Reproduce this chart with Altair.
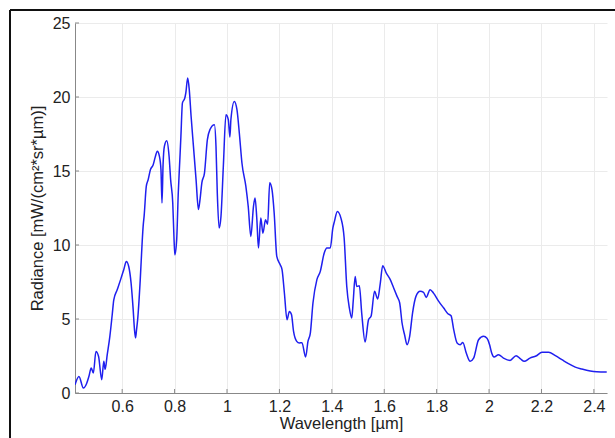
import altair as alt
import pandas as pd

wavelength = [
    0.420, 0.435, 0.452, 0.464, 0.473, 0.482, 0.490, 0.500, 0.510, 0.522,
    0.530, 0.535, 0.543, 0.553, 0.562, 0.568, 0.581, 0.594, 0.606, 0.616,
    0.625, 0.634, 0.642, 0.647, 0.651, 0.655, 0.659, 0.669, 0.676, 0.680,
    0.684, 0.692, 0.699, 0.708, 0.718, 0.727, 0.734, 0.742, 0.748, 0.752,
    0.756, 0.761, 0.770, 0.779, 0.785, 0.793, 0.798, 0.801, 0.808, 0.814,
    0.820, 0.824, 0.830, 0.839, 0.843, 0.850, 0.856, 0.863, 0.872, 0.882,
    0.891, 0.897, 0.904, 0.914, 0.925, 0.935, 0.952, 0.958, 0.963, 0.970,
    0.977, 0.986, 0.996, 1.005, 1.011, 1.015, 1.028, 1.038, 1.047, 1.057,
    1.072, 1.081, 1.091, 1.101, 1.107, 1.114, 1.120, 1.129, 1.137, 1.147,
    1.155, 1.163, 1.172, 1.180, 1.190, 1.203, 1.210, 1.219, 1.229, 1.238,
    1.246, 1.254, 1.266, 1.276, 1.286, 1.300, 1.309, 1.318, 1.328, 1.343,
    1.356, 1.371, 1.381, 1.394, 1.404, 1.410, 1.421, 1.435, 1.447, 1.457,
    1.467, 1.476, 1.482, 1.489, 1.495, 1.505, 1.514, 1.527, 1.540, 1.550,
    1.563, 1.575, 1.585, 1.594, 1.608, 1.623, 1.636, 1.649, 1.659, 1.668,
    1.678, 1.687, 1.697, 1.708, 1.721, 1.737, 1.750, 1.760, 1.775, 1.788,
    1.808, 1.827, 1.843, 1.855, 1.865, 1.878, 1.890, 1.900, 1.913, 1.928,
    1.941, 1.960, 1.979, 1.992, 2.002, 2.010, 2.019, 2.036, 2.055, 2.080,
    2.103, 2.120, 2.134, 2.156, 2.179, 2.202, 2.227, 2.253, 2.278, 2.303,
    2.329, 2.354, 2.386, 2.411, 2.449,
]

radiance = [
    0.55, 1.12, 0.34, 0.63, 1.12, 1.69, 1.35, 2.81, 2.47, 0.90,
    2.14, 1.60, 2.59, 3.83, 5.29, 6.30, 6.98, 7.66, 8.33, 8.89,
    8.55, 7.43, 5.63, 4.28, 3.72, 4.30, 4.95, 7.66, 10.10, 11.26,
    12.00, 13.96, 14.40, 15.10, 15.40, 16.00, 16.33, 16.00, 15.10, 12.84,
    15.40, 16.66, 17.05, 16.00, 14.40, 12.84, 10.36, 9.34, 10.36, 13.50,
    15.76, 17.30, 19.60, 19.93, 20.30, 21.28, 20.50, 18.70, 16.66, 14.40,
    12.40, 13.06, 14.20, 14.86, 17.10, 17.80, 18.13, 16.66, 13.50, 11.15,
    11.93, 15.30, 18.80, 18.47, 17.30, 18.50, 19.70, 19.14, 17.57, 15.54,
    13.96, 12.60, 10.58, 12.60, 13.18, 11.70, 9.80, 11.82, 10.80, 11.70,
    11.40, 14.20, 13.70, 12.16, 9.23, 8.67, 8.33, 6.76, 4.95, 5.51,
    5.30, 4.16, 3.49, 3.38, 3.40, 2.43, 3.49, 4.05, 6.08, 7.66,
    8.22, 9.46, 9.80, 9.80, 11.15, 11.60, 12.27, 11.80, 10.47, 7.20,
    5.74, 5.07, 6.30, 7.88, 7.20, 7.25, 5.40, 3.45, 4.95, 5.20,
    6.87, 6.35, 7.43, 8.60, 8.10, 7.66, 7.10, 6.53, 6.08, 4.73,
    3.90, 3.26, 3.83, 5.40, 6.53, 6.87, 6.80, 6.46, 6.98, 6.75,
    6.19, 5.74, 5.36, 5.22, 4.28, 3.38, 3.26, 3.42, 2.70, 2.14,
    2.35, 3.60, 3.83, 3.70, 3.26, 2.70, 2.43, 2.59, 2.36, 2.20,
    2.52, 2.30, 2.14, 2.36, 2.50, 2.75, 2.75, 2.52, 2.25, 1.98,
    1.75, 1.62, 1.49, 1.44, 1.42,
]

x_ticks = [0.6, 0.8, 1.0, 1.2, 1.4, 1.6, 1.8, 2.0, 2.2, 2.4]
y_ticks = [0, 5, 10, 15, 20, 25]

df = pd.DataFrame({"w": wavelength, "r": radiance})
df_xt = pd.DataFrame({"t": x_ticks})
df_yt = pd.DataFrame({"t": y_ticks})

FONT = "Liberation Sans"
W, H = 532, 370
X_DOMAIN = [0.42, 2.45]
Y_DOMAIN = [0, 25]

common_axis = dict(
    labelFontSize=16,
    titleFontSize=16.5,
    titleFontWeight="normal",
    tickSize=0,
    domainColor="#888888",
    gridColor="#ebebeb",
    labelColor="#222222",
    titleColor="#222222",
    labelFont=FONT,
    titleFont=FONT,
    labelFlush=False,
)

line = alt.Chart(df).mark_line(
    color="#1f1fef", strokeWidth=1.5, clip=True, interpolate="monotone"
).encode(
    x=alt.X(
        "w:Q",
        scale=alt.Scale(domain=X_DOMAIN, nice=False, zero=False),
        axis=alt.Axis(
            values=x_ticks,
            format="~g",
            title="Wavelength [µm]",
            labelPadding=5,
            titlePadding=1,
            **common_axis,
        ),
    ),
    y=alt.Y(
        "r:Q",
        scale=alt.Scale(domain=Y_DOMAIN, nice=False),
        axis=alt.Axis(
            values=y_ticks,
            title="Radiance [mW/(cm²*sr*µm)]",
            labelPadding=5,
            titlePadding=7,
            **common_axis,
        ),
    ),
)

# inward (MATLAB style) tick marks
xticks_in = alt.Chart(df_xt).mark_rule(color="#888888", strokeWidth=1).encode(
    x=alt.X("t:Q", scale=alt.Scale(domain=X_DOMAIN, nice=False, zero=False)),
    y=alt.value(H),
    y2=alt.value(H - 4),
)
yticks_in = alt.Chart(df_yt).mark_rule(color="#888888", strokeWidth=1).encode(
    y=alt.Y("t:Q", scale=alt.Scale(domain=Y_DOMAIN, nice=False)),
    x=alt.value(0),
    x2=alt.value(4),
)

frame_left = alt.Chart(df).mark_rule(color="#111111", strokeWidth=2).encode(
    x=alt.value(-65), y=alt.value(-13), y2=alt.value(H + 45)
)
frame_top = alt.Chart(df).mark_rule(color="#111111", strokeWidth=2).encode(
    x=alt.value(-65), x2=alt.value(W + 8), y=alt.value(-13)
)

chart = (
    alt.layer(line, xticks_in, yticks_in, frame_left, frame_top)
    .properties(
        width=W,
        height=H,
        autosize=alt.AutoSizeParams(type="none"),
        padding={"left": 75, "top": 23, "right": 8, "bottom": 45},
        background="white",
    )
    .configure_view(stroke=None)
)

chart.save("out.html", embed_options={"renderer": "svg", "actions": False})
